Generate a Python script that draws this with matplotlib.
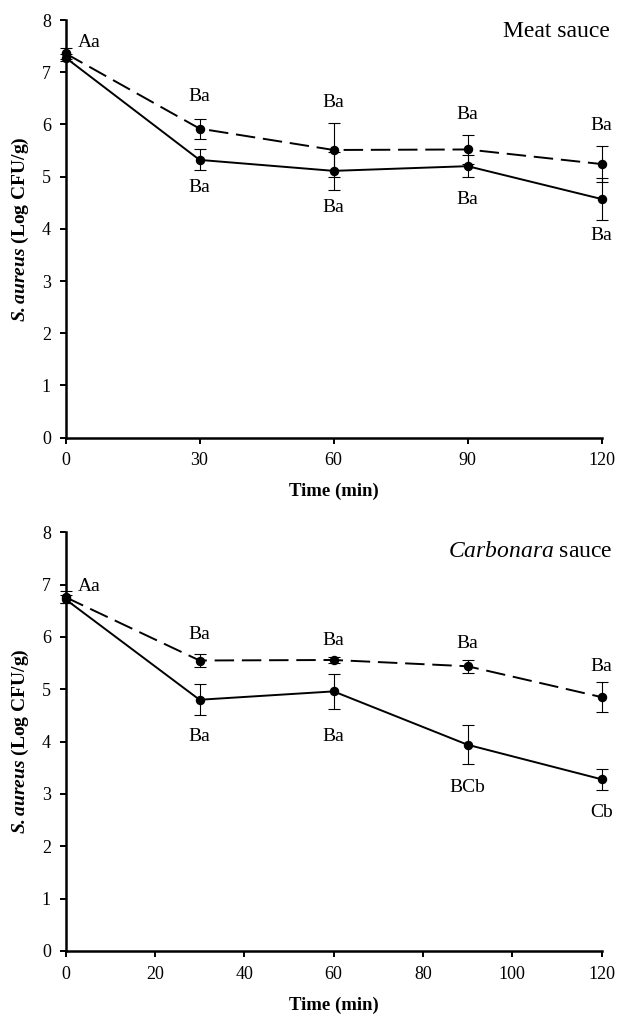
import matplotlib
matplotlib.use("Agg")
import matplotlib.pyplot as plt

plt.rcParams['font.family'] = ['Liberation Serif', 'DejaVu Serif']
plt.rcParams['mathtext.fontset'] = 'custom'
plt.rcParams['mathtext.rm'] = 'Liberation Serif'
plt.rcParams['mathtext.it'] = 'Liberation Serif:italic'
plt.rcParams['mathtext.bf'] = 'Liberation Serif:bold'
plt.rcParams['mathtext.bfit'] = 'Liberation Serif:bold:italic'

time = [0, 30, 60, 90, 120]

# Meat sauce
meat_dashed = [7.36, 5.92, 5.51, 5.52, 5.24]
meat_dashed_err = [0.10, 0.19, 0.52, 0.27, 0.35]
meat_solid = [7.28, 5.32, 5.11, 5.20, 4.57]
meat_solid_err = [0.06, 0.20, 0.37, 0.21, 0.40]
meat_lab_up = ["Aa", "Ba", "Ba", "Ba", "Ba"]
meat_lab_dn = ["", "Ba", "Ba", "Ba", "Ba"]

# Carbonara sauce
carb_dashed = [6.76, 5.55, 5.56, 5.44, 4.85]
carb_dashed_err = [0.12, 0.13, 0.05, 0.12, 0.29]
carb_solid = [6.72, 4.80, 4.96, 3.94, 3.28]
carb_solid_err = [0.08, 0.30, 0.34, 0.37, 0.20]
carb_lab_up = ["Aa", "Ba", "Ba", "Ba", "Ba"]
carb_lab_dn = ["", "Ba", "Ba", "BCb", "Cb"]

fig = plt.figure(figsize=(6.18, 10.16), dpi=100)
ax1 = fig.add_axes([0.106, 0.5693, 0.8676, 0.4110])
ax2 = fig.add_axes([0.106, 0.0640, 0.8676, 0.4121])


def errline(ax, y, e, **kw):
    cont = ax.errorbar(time, y, yerr=e, color='black', lw=1.4, marker='o', ms=5.8,
                       capsize=4, elinewidth=0.8, capthick=0.8, ecolor='black',
                       zorder=3, **kw)
    data_line, caps, bars = cont.lines
    data_line.set_clip_on(False)
    for c in caps:
        c.set_clip_on(False)
    for b in bars:
        b.set_clip_on(False)


def draw(ax, ds, dse, ss, sse, up, dn, title, tx, ty, xticks, up_off, dn_off):
    errline(ax, ds, dse, dashes=(10, 4))
    errline(ax, ss, sse, ls='-')
    for i, t in enumerate(time):
        if i == 0:
            ax.annotate(up[i], (t, ds[i]), xytext=(24, 11), textcoords='offset pixels',
                        ha='center', va='center', fontsize=14)
            continue
        ax.annotate(up[i], (t, ds[i]), xytext=(0, up_off[i]), textcoords='offset pixels',
                    ha='center', va='center', fontsize=14)
        ax.annotate(dn[i], (t, ss[i]), xytext=(0, dn_off[i]), textcoords='offset pixels',
                    ha='center', va='center', fontsize=14)
    ax.set_xlim(0, 120)
    ax.set_ylim(0, 8)
    ax.set_xticks(xticks)
    ax.set_yticks(range(0, 9))
    for s in ['top', 'right']:
        ax.spines[s].set_visible(False)
    for s in ['left', 'bottom']:
        ax.spines[s].set_linewidth(1.8)
    ax.tick_params(direction='out', length=4.5, width=1.4, labelsize=13, pad=6)
    ax.set_xlabel('Time (min)', fontweight='bold', fontsize=13.5, labelpad=10)
    ax.set_ylabel(r'$\mathbfit{S. aureus}$ (Log CFU/g)', fontweight='bold', fontsize=14)
    ax.yaxis.set_label_coords(-0.064, 0.5)
    ax.text(tx, ty, title, transform=ax.transAxes, ha='right', va='baseline', fontsize=17)


draw(ax1, meat_dashed, meat_dashed_err, meat_solid, meat_solid_err,
     meat_lab_up, meat_lab_dn, 'Meat sauce', 1.016, 0.960, [0, 30, 60, 90, 120],
     [0, 32, 47, 35, 39], [0, -28, -37, -33, -36])
draw(ax2, carb_dashed, carb_dashed_err, carb_solid, carb_solid_err,
     carb_lab_up, carb_lab_dn, r'$\mathit{Carbonara}$ sauce', 1.021, 0.941,
     [0, 20, 40, 60, 80, 100, 120],
     [0, 26, 19, 23, 31], [0, -37, -45, -43, -33])

fig.savefig('out.png', dpi=100)
